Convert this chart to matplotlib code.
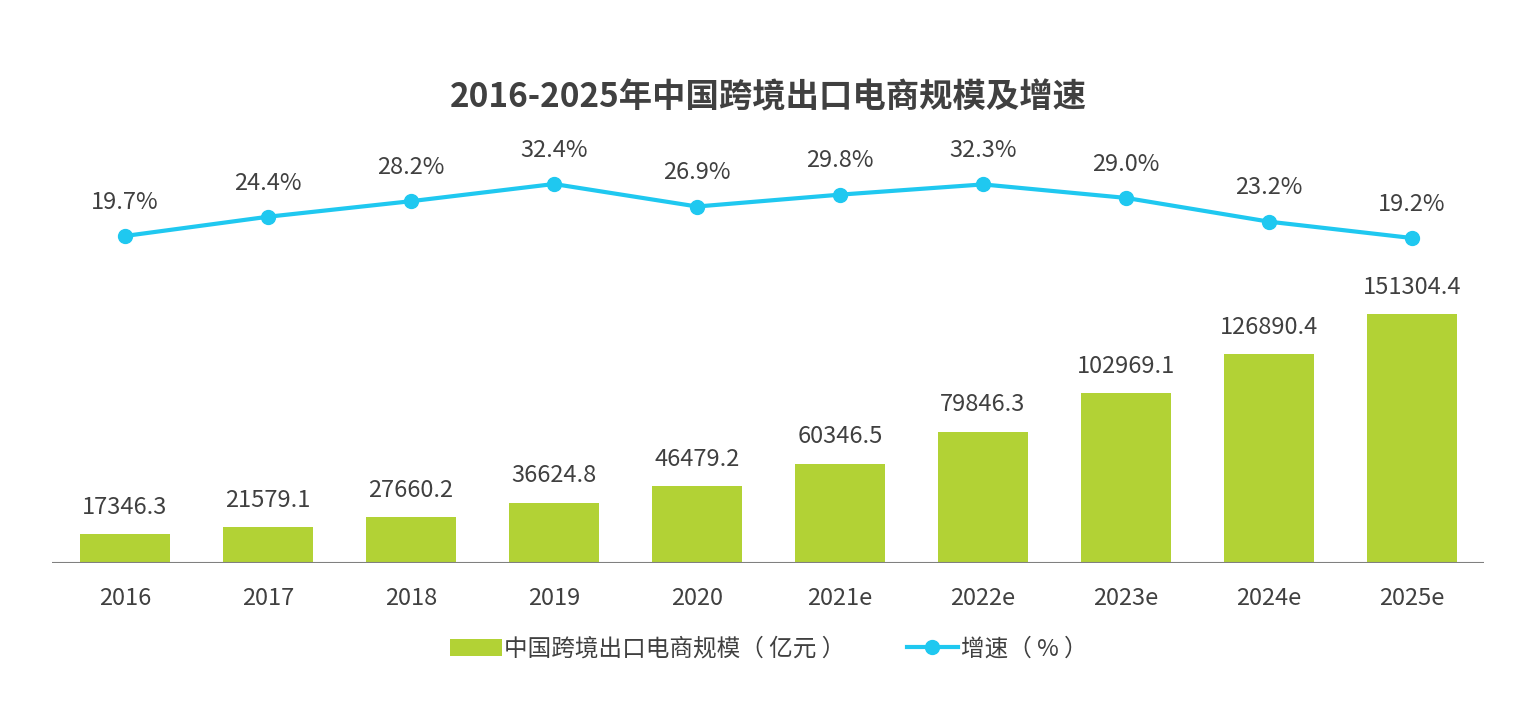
import matplotlib.pyplot as plt

plt.rcParams['font.family'] = ['Noto Sans CJK SC', 'DejaVu Sans']

years = ['2016', '2017', '2018', '2019', '2020', '2021e', '2022e', '2023e', '2024e', '2025e']
scale = [17346.3, 21579.1, 27660.2, 36624.8, 46479.2, 60346.5, 79846.3, 102969.1, 126890.4, 151304.4]
growth = [19.7, 24.4, 28.2, 32.4, 26.9, 29.8, 32.3, 29.0, 23.2, 19.2]

bar_color = '#B2D235'
line_color = '#1FC8F0'
text_color = '#404040'

fig = plt.figure(figsize=(15.37, 7.13), dpi=100)
ax = fig.add_axes([0.0, 0.2104, 1.0, 0.6073])
x = list(range(len(years)))

ax.bar(x, scale, width=0.636, color=bar_color, label='中国跨境出口电商规模（ 亿元 ）', zorder=2)
ax.set_ylim(0, 263000)
ax.set_xlim(-125 / 143, (1537 - 125) / 143)

for xi, v in zip(x, scale):
    ax.annotate('%.1f' % v, (xi, v), xytext=(0, 11), textcoords='offset points',
                ha='center', va='bottom', fontsize=17, color=text_color)

ax.set_xticks(x)
ax.set_xticklabels(years, fontsize=17, color=text_color)
ax.tick_params(axis='x', length=0, pad=17)
ax.set_yticks([])
for s in ['top', 'left', 'right', 'bottom']:
    ax.spines[s].set_visible(False)
ax.hlines(0, -0.51, 9.5, color='#808080', lw=1.5, zorder=3)
ax.patch.set_alpha(0)

ax2 = ax.twinx()
ax2.set_ylim(-60.2, 45.6)
ax2.plot(x, growth, color=line_color, lw=3, marker='o', markersize=10,
         label='增速（ % ）', zorder=3)
for xi, v in zip(x, growth):
    ax2.annotate('%.1f%%' % v, (xi, v), xytext=(0, 16), textcoords='offset points',
                 ha='center', va='bottom', fontsize=17, color=text_color)
ax2.set_yticks([])
for s in ['top', 'left', 'right', 'bottom']:
    ax2.spines[s].set_visible(False)

fig.text(0.5, (713 - 98) / 713, '2016-2025年中国跨境出口电商规模及增速', ha='center', va='center',
         fontsize=24, fontweight='bold', color=text_color)

h1, l1 = ax.get_legend_handles_labels()
h2, l2 = ax2.get_legend_handles_labels()
leg = fig.legend(h1 + h2, l1 + l2, loc='center', bbox_to_anchor=(0.5, (713 - 649) / 713), ncol=2,
                 frameon=False, fontsize=17, handlelength=2.2, handletextpad=0.1, columnspacing=2.6)
for t in leg.get_texts():
    t.set_color(text_color)

fig.savefig('out.png', dpi=100)
